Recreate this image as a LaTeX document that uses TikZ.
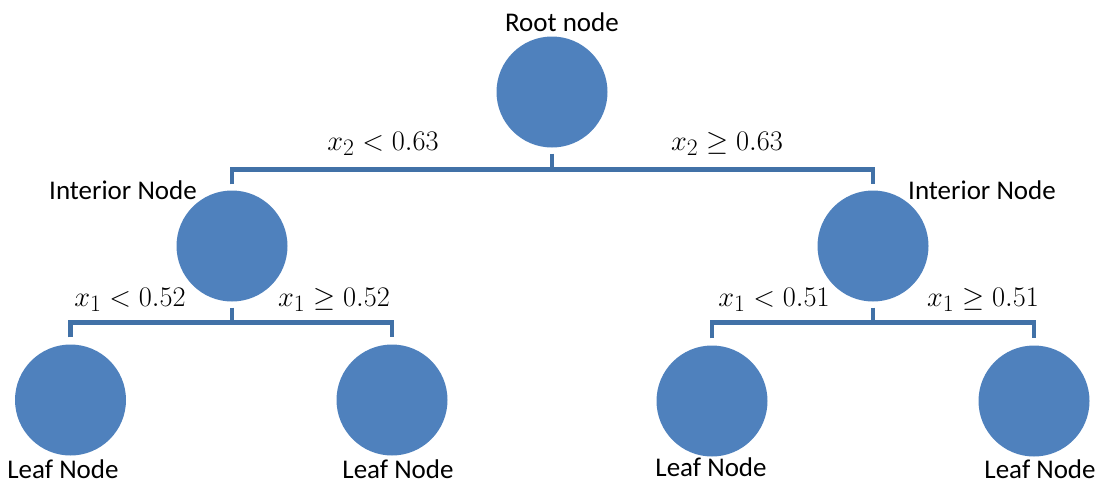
\documentclass[tikz,border=0pt]{standalone}
\usepackage{graphicx}
\usepackage{fontspec}
\setmainfont{Carlito}
% split condition, set in math and enlarged to the label size
\newcommand{\splitcond}[1]{\scalebox{1.14}{$#1$}}
\begin{document}
\begin{tikzpicture}[x=1pt,y=-1pt,
  treenode/.style={circle,fill=nodeblue,draw=none,minimum size=111pt,inner sep=0pt},
  branch/.style={draw=lineblue,line width=4.5pt,line join=miter},
  caption/.style={inner sep=0pt,anchor=base,font=\fontsize{27}{32}\selectfont,text=black},
  cond/.style={inner sep=0pt,anchor=base,font=\fontsize{24.88}{30}\selectfont,text=black}]
\definecolor{nodeblue}{RGB}{79,129,189}
\definecolor{lineblue}{RGB}{65,113,167}
\useasboundingbox (0,0) rectangle (1102,483);

% tree nodes
\node[treenode] (root) at (552,92) {};
\node[treenode] (intL) at (232,246) {};
\node[treenode] (intR) at (873,246) {};
\node[treenode] (leafLL) at (70.5,400) {};
\node[treenode] (leafLR) at (392,400) {};
\node[treenode] (leafRL) at (712,401) {};
\node[treenode] (leafRR) at (1034,401) {};

% branches (split bars)
\coordinate (splitRoot) at ([yshift=-22pt]root.south);
\draw[branch] ([yshift=-6pt]root.south) -- (splitRoot);
\draw[branch] ([yshift=6pt]intL.north) |- (splitRoot) -| ([yshift=6pt]intR.north);

\coordinate (splitL) at ([yshift=-21pt]intL.south);
\draw[branch] ([yshift=-6pt]intL.south) -- (splitL);
\draw[branch] ([yshift=7pt]leafLL.north) |- (splitL) -| ([yshift=7pt]leafLR.north);

\coordinate (splitR) at ([yshift=-21pt]intR.south);
\draw[branch] ([yshift=-6pt]intR.south) -- (splitR);
\draw[branch] ([yshift=7pt]leafRL.north) |- (splitR) -| ([yshift=7pt]leafRR.north);

% node captions (placed on their baselines)
\node[caption] (capRoot) at (562,31) {Root node};
\node[caption] (capIntL) at (123,199) {Interior Node};
\node[caption] (capIntR) at (982,199) {Interior Node};
\node[caption] (capLL) at (63,478) {Leaf Node};
\node[caption] (capLR) at (398,478) {Leaf Node};
\node[caption] (capRL) at (711,476) {Leaf Node};
\node[caption] (capRR) at (1040,478) {Leaf Node};

% split conditions
\node[cond] (condRootL) at (383,150) {\splitcond{x_2 < 0.63}};
\node[cond] (condRootR) at (727,150) {\splitcond{x_2 \geq 0.63}};
\node[cond] (condLL) at (130,306) {\splitcond{x_1 < 0.52}};
\node[cond] (condLR) at (334,306) {\splitcond{x_1 \geq 0.52}};
\node[cond] (condRL) at (774,306) {\splitcond{x_1 < 0.51}};
\node[cond] (condRR) at (983,306) {\splitcond{x_1 \geq 0.51}};
\end{tikzpicture}
\end{document}
